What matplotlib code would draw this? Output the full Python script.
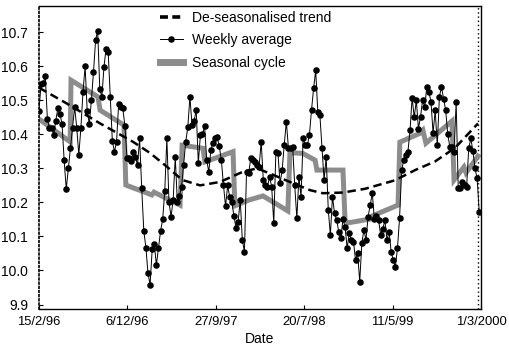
import numpy as np
import pandas as pd
import matplotlib
matplotlib.use('Agg')
import matplotlib.pyplot as plt
from matplotlib.lines import Line2D

plt.rcParams['font.family'] = ['Liberation Sans', 'DejaVu Sans']

start = pd.Timestamp('1996-02-15')
end = pd.Timestamp('2000-03-01')
last_obs = pd.Timestamp('2000-02-19')

# weekly averages, one value per week from the start date
weekly_avg = [
    10.47, 10.549, 10.55, 10.571, 10.445, 10.419, 10.42, 10.398, 10.44, 10.476,
    10.46, 10.43, 10.324, 10.239, 10.30, 10.36, 10.42, 10.48, 10.42, 10.34,
    10.42, 10.525, 10.60, 10.47, 10.43, 10.50, 10.583, 10.676, 10.705, 10.532,
    10.51, 10.598, 10.652, 10.642, 10.51, 10.38, 10.349, 10.378, 10.49, 10.48,
    10.476, 10.424, 10.33, 10.329, 10.321, 10.349, 10.334, 10.31, 10.388, 10.241,
    10.117, 10.067, 9.992, 9.958, 10.062, 10.078, 10.016, 10.065, 10.116, 10.15,
    10.234, 10.388, 10.202, 10.158, 10.207, 10.334, 10.202, 10.22, 10.245, 10.31,
    10.378, 10.422, 10.51, 10.427, 10.44, 10.471, 10.316, 10.398, 10.40, 10.424,
    10.324, 10.29, 10.354, 10.375, 10.39, 10.391, 10.365, 10.324, 10.251, 10.188,
    10.25, 10.215, 10.20, 10.16, 10.124, 10.143, 10.207, 10.09, 10.055, 10.29,
    10.285, 10.329, 10.325, 10.32, 10.31, 10.305, 10.378, 10.266, 10.25, 10.246,
    10.275, 10.246, 10.139, 10.349, 10.344, 10.256, 10.295, 10.37, 10.437, 10.359,
    10.36, 10.364, 10.25, 10.153, 10.275, 10.217, 10.388, 10.37, 10.368, 10.398,
    10.471, 10.535, 10.588, 10.466, 10.456, 10.36, 10.266, 10.334, 10.178, 10.104,
    10.217, 10.168, 10.148, 10.114, 10.095, 10.15, 10.129, 10.065, 10.11, 10.09,
    10.085, 10.031, 10.05, 9.967, 10.08, 10.119, 10.09, 10.158, 10.192, 10.227,
    10.15, 10.16, 10.148, 10.104, 10.121, 10.148, 10.09, 10.114, 10.055, 10.03,
    10.011, 10.065, 10.153, 10.295, 10.324, 10.34, 10.349, 10.412, 10.508, 10.45,
    10.50, 10.417, 10.451, 10.50, 10.48, 10.539, 10.525, 10.495, 10.403, 10.471,
    10.368, 10.51, 10.539, 10.505, 10.471, 10.40, 10.363, 10.363, 10.349, 10.495,
    10.241, 10.241, 10.261, 10.25, 10.246, 10.359, 10.388, 10.35, 10.30, 10.271,
    10.173,
]

# seasonal cycle (trend + seasonal component), days since start
season_day = [0, 104, 107, 197, 204, 284, 290, 377, 384, 471, 478, 548, 554, 648,
              654, 701, 748, 831, 838, 881, 922, 928, 1015, 1022, 1032, 1105, 1112,
              1199, 1205, 1272, 1282, 1292, 1379, 1386, 1419, 1426, 1466]
season_val = [10.445, 10.378, 10.559, 10.51, 10.471, 10.427, 10.251, 10.222, 10.23,
              10.192, 10.368, 10.359, 10.319, 10.349, 10.19, 10.207, 10.219, 10.175,
              10.346, 10.344, 10.324, 10.295, 10.295, 10.148, 10.14, 10.151, 10.16,
              10.192, 10.377, 10.403, 10.412, 10.374, 10.439, 10.266, 10.304, 10.287,
              10.336]

# de-seasonalised trend, days since start
trend_day = [0, 94, 204, 314, 371, 427, 478, 538, 604, 681, 728, 771, 838, 905,
             948, 1015, 1089, 1189, 1256, 1322, 1389, 1466]
trend_val = [10.537, 10.49, 10.432, 10.378, 10.345, 10.305, 10.266, 10.25, 10.26,
             10.29, 10.30, 10.285, 10.26, 10.236, 10.227, 10.229, 10.24, 10.265,
             10.295, 10.32, 10.36, 10.432]

tick_dates = ['1996-02-15', '1996-12-06', '1997-09-27', '1998-07-20', '1999-05-11', '2000-03-01']
tick_labels = ['15/2/96', '6/12/96', '27/9/97', '20/7/98', '11/5/99', '1/3/2000']
y_ticks = [9.9, 10.0, 10.1, 10.2, 10.3, 10.4, 10.5, 10.6, 10.7]

weekly_dates = start + pd.to_timedelta(7 * np.arange(len(weekly_avg)), unit='D')
season_dates = start + pd.to_timedelta(season_day, unit='D')
trend_dates = start + pd.to_timedelta(trend_day, unit='D')

fig = plt.figure(figsize=(5.09, 3.49), dpi=100)
ax = fig.add_axes([0.0766, 0.1138, 0.8684, 0.8690])

season_col = '#8c8c8c'
ax.plot(season_dates, season_val, color=season_col, lw=3.6, solid_joinstyle='miter', zorder=1)
ax.plot(trend_dates, trend_val, color='black', lw=1.8, dashes=(3.4, 1.9), zorder=2)
ax.plot(weekly_dates, weekly_avg, color='black', lw=0.7, marker='o', ms=3.7, zorder=3)
ax.axvline(last_obs, color='black', lw=1.0, ls=(0, (1, 2)), zorder=0)

ax.set_xlim(start, end)
ax.set_ylim(9.886, 10.777)
ax.set_xticks(pd.to_datetime(tick_dates))
ax.set_xticklabels(tick_labels)
ax.set_yticks(y_ticks)
ax.yaxis.set_major_formatter(plt.FormatStrFormatter('%.1f'))
ax.tick_params(direction='in', length=3, width=0.8)
ax.tick_params(axis='y', pad=8, labelsize=10)
ax.tick_params(axis='x', pad=5, labelsize=9.4)
ax.set_xlabel('Date', fontsize=10, labelpad=3)

for s in ax.spines.values():
    s.set_linewidth(1.0)
ax.spines['left'].set_linestyle((0, (1, 1.5)))
ax.spines['left'].set_linewidth(1.2)

# legend handles drawn a bit heavier than the plotted lines
handles = [
    Line2D([], [], color='black', lw=2.6, dashes=(2.2, 1.2)),
    Line2D([], [], color='black', lw=0.7, marker='o', ms=3.7),
    Line2D([], [], color=season_col, lw=5),
]
labels = ['De-seasonalised trend', 'Weekly average', 'Seasonal cycle']
ax.legend(handles, labels, loc='upper left', bbox_to_anchor=(0.262, 1.0), frameon=False,
          fontsize=10, handlelength=1.65, handletextpad=0.65, labelspacing=0.6,
          borderaxespad=0.15, borderpad=0.2)

fig.savefig('out.png', dpi=100)
